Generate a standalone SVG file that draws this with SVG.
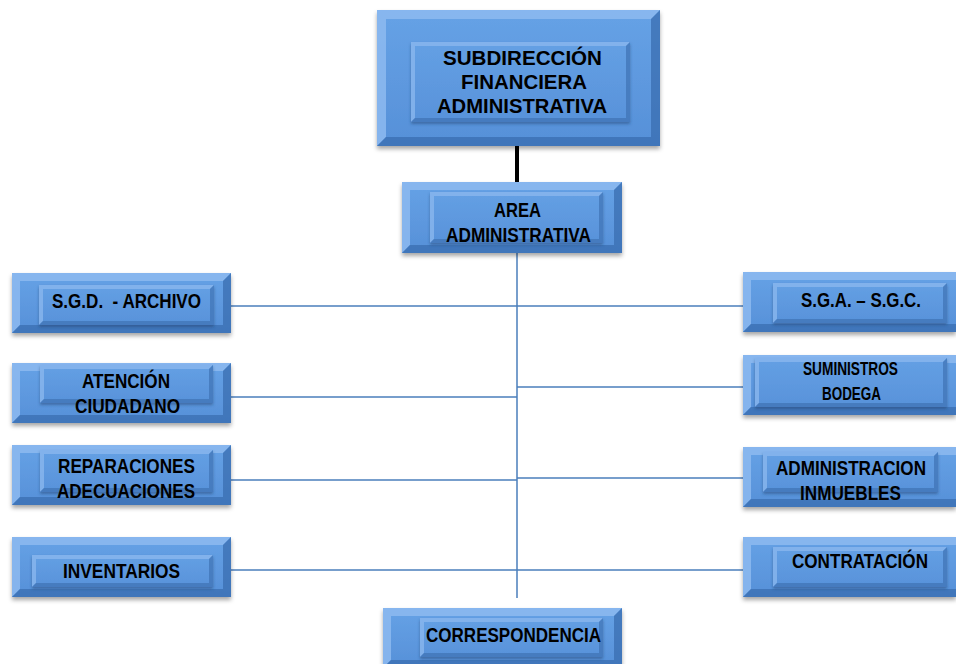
<svg xmlns="http://www.w3.org/2000/svg" width="956" height="664" viewBox="0 0 956 664">
<style>
.o{fill:url(#g);filter:url(#sh)}
.i{fill:url(#g2);filter:url(#sh2)}
.l{fill:#8dbaf0;opacity:.85}
.d{fill:#3a6db0;opacity:.75}
.il{fill:#8ab7ee;opacity:.8}
.id{fill:#3f72b4;opacity:.7}
.t{font-family:"Liberation Sans",Arial,sans-serif;font-weight:bold;font-size:21px;fill:#000;text-anchor:middle}
.s{font-size:18px}
.m{font-size:20px}
.c{stroke:#4a7ebb;stroke-width:1.5;fill:none}
</style>
<defs>
<linearGradient id="g" x1="0" y1="0" x2="0" y2="1"><stop offset="0" stop-color="#66a2e6"/><stop offset="1" stop-color="#5690d8"/></linearGradient>
<linearGradient id="g2" x1="0" y1="0" x2="0" y2="1"><stop offset="0" stop-color="#64a0e4"/><stop offset="1" stop-color="#5892da"/></linearGradient>
<filter id="sh" x="-10%" y="-10%" width="120%" height="130%"><feDropShadow dx="0" dy="3" stdDeviation="2" flood-color="#000" flood-opacity="0.35"/></filter>
<filter id="sh2" x="-10%" y="-10%" width="120%" height="140%"><feDropShadow dx="0" dy="2" stdDeviation="1.5" flood-color="#1c3f70" flood-opacity="0.5"/></filter>
</defs>
<rect width="956" height="664" fill="#fff"/>
<g id="connectors">
<line x1="517" y1="146" x2="517" y2="183" stroke="#000" stroke-width="4"/>
<line class="c" x1="517" y1="253" x2="517" y2="598"/>
<line class="c" x1="231" y1="306" x2="743" y2="306"/>
<line class="c" x1="231" y1="397" x2="517" y2="397"/>
<line class="c" x1="517" y1="387" x2="743" y2="387"/>
<line class="c" x1="231" y1="480" x2="517" y2="480"/>
<line class="c" x1="517" y1="478" x2="743" y2="478"/>
<line class="c" x1="231" y1="570" x2="743" y2="570"/>
</g>
<g id="subdireccion">
<rect class="o" x="377" y="10" width="283" height="136"/>
<path class="l" d="M377,10H660L651,19H386V137L377,146Z"/><path class="d" d="M660,10V146H377L386,137H651V19Z"/>
<rect class="i" x="411" y="42" width="219" height="80"/>
<path class="il" d="M411,42H630L626,46H415V118L411,122Z"/><path class="id" d="M630,42V122H411L415,118H626V46Z"/>
<text class="t" x="522.5" y="65" textLength="159" lengthAdjust="spacingAndGlyphs">SUBDIRECCIÓN</text>
<text class="t" x="524" y="89" textLength="126" lengthAdjust="spacingAndGlyphs">FINANCIERA</text>
<text class="t" x="522" y="113" textLength="170" lengthAdjust="spacingAndGlyphs">ADMINISTRATIVA</text>
</g>
<g id="area">
<rect class="o" x="402" y="182" width="220" height="71"/>
<path class="l" d="M402,182H622L614,190H410V245L402,253Z"/><path class="d" d="M622,182V253H402L410,245H614V190Z"/>
<rect class="i" x="430" y="192" width="173" height="51"/>
<path class="il" d="M430,192H603L599,196H434V239L430,243Z"/><path class="id" d="M603,192V243H430L434,239H599V196Z"/>
<text class="t" x="517.5" y="217" textLength="47" lengthAdjust="spacingAndGlyphs">AREA</text>
<text class="t" x="518.5" y="242" textLength="145" lengthAdjust="spacingAndGlyphs">ADMINISTRATIVA</text>
</g>
<g id="sgd">
<rect class="o" x="12" y="273" width="219" height="60"/>
<path class="l" d="M12,273H231L223,281H20V325L12,333Z"/><path class="d" d="M231,273V333H12L20,325H223V281Z"/>
<rect class="i" x="39" y="285" width="175" height="40"/>
<path class="il" d="M39,285H214L210,289H43V321L39,325Z"/><path class="id" d="M214,285V325H39L43,321H210V289Z"/>
<text class="t" x="126.5" y="308" textLength="149" lengthAdjust="spacingAndGlyphs" xml:space="preserve">S.G.D.  - ARCHIVO</text>
</g>
<g id="atencion">
<rect class="o" x="12" y="363" width="219" height="60"/>
<path class="l" d="M12,363H231L223,371H20V415L12,423Z"/><path class="d" d="M231,363V423H12L20,415H223V371Z"/>
<rect class="i" x="40" y="365" width="173" height="38"/>
<path class="il" d="M40,365H213L209,369H44V399L40,403Z"/><path class="id" d="M213,365V403H40L44,399H209V369Z"/>
<text class="t" x="126" y="388" textLength="88" lengthAdjust="spacingAndGlyphs">ATENCIÓN</text>
<text class="t" x="127.5" y="413" textLength="105" lengthAdjust="spacingAndGlyphs">CIUDADANO</text>
</g>
<g id="reparaciones">
<rect class="o" x="12" y="445" width="219" height="60"/>
<path class="l" d="M12,445H231L223,453H20V497L12,505Z"/><path class="d" d="M231,445V505H12L20,497H223V453Z"/>
<rect class="i" x="40" y="450" width="173" height="42"/>
<path class="il" d="M40,450H213L209,454H44V488L40,492Z"/><path class="id" d="M213,450V492H40L44,488H209V454Z"/>
<text class="t" x="126.5" y="473" textLength="137" lengthAdjust="spacingAndGlyphs">REPARACIONES</text>
<text class="t" x="126" y="498" textLength="138" lengthAdjust="spacingAndGlyphs">ADECUACIONES</text>
</g>
<g id="inventarios">
<rect class="o" x="12" y="537" width="219" height="60"/>
<path class="l" d="M12,537H231L223,545H20V589L12,597Z"/><path class="d" d="M231,537V597H12L20,589H223V545Z"/>
<rect class="i" x="32" y="555" width="181" height="32"/>
<path class="il" d="M32,555H213L209,559H36V583L32,587Z"/><path class="id" d="M213,555V587H32L36,583H209V559Z"/>
<text class="t" x="121.5" y="578" textLength="117" lengthAdjust="spacingAndGlyphs">INVENTARIOS</text>
</g>
<g id="sga">
<rect class="o" x="743" y="272" width="213" height="60"/>
<path class="l" d="M743,272H964L956,280H751V324L743,332Z"/><path class="d" d="M956,332H743L751,324H956Z"/>
<rect class="i" x="773" y="283" width="174" height="40"/>
<path class="il" d="M773,283H947L943,287H777V319L773,323Z"/><path class="id" d="M947,283V323H773L777,319H943V287Z"/>
<text class="t" x="861" y="307" textLength="120" lengthAdjust="spacingAndGlyphs">S.G.A. – S.G.C.</text>
</g>
<g id="suministros">
<rect class="o" x="743" y="355" width="213" height="60"/>
<path class="l" d="M743,355H964L956,363H751V407L743,415Z"/><path class="d" d="M956,415H743L751,407H956Z"/>
<rect class="i" x="755" y="358" width="192" height="49"/>
<path class="il" d="M755,358H947L943,362H759V403L755,407Z"/><path class="id" d="M947,358V407H755L759,403H943V362Z"/>
<text class="t s" x="850.5" y="375" textLength="95" lengthAdjust="spacingAndGlyphs">SUMINISTROS</text>
<text class="t s" x="851.5" y="400" textLength="59" lengthAdjust="spacingAndGlyphs">BODEGA</text>
</g>
<g id="inmuebles">
<rect class="o" x="743" y="447" width="213" height="60"/>
<path class="l" d="M743,447H964L956,455H751V499L743,507Z"/><path class="d" d="M956,507H743L751,499H956Z"/>
<rect class="i" x="763" y="452" width="175" height="40"/>
<path class="il" d="M763,452H938L934,456H767V488L763,492Z"/><path class="id" d="M938,452V492H763L767,488H934V456Z"/>
<text class="t m" x="851" y="475" textLength="150" lengthAdjust="spacingAndGlyphs">ADMINISTRACION</text>
<text class="t m" x="850.5" y="500" textLength="101" lengthAdjust="spacingAndGlyphs">INMUEBLES</text>
</g>
<g id="contratacion">
<rect class="o" x="743" y="537" width="213" height="60"/>
<path class="l" d="M743,537H964L956,545H751V589L743,597Z"/><path class="d" d="M956,597H743L751,589H956Z"/>
<rect class="i" x="773" y="547" width="174" height="40"/>
<path class="il" d="M773,547H947L943,551H777V583L773,587Z"/><path class="id" d="M947,547V587H773L777,583H943V551Z"/>
<text class="t m" x="860" y="568" textLength="136" lengthAdjust="spacingAndGlyphs">CONTRATACIÓN</text>
</g>
<g id="correspondencia">
<rect class="o" x="383" y="608" width="239" height="60"/>
<path class="l" d="M383,608H622L614,616H391V660L383,668Z"/><path class="d" d="M622,608V668H383L391,660H614V616Z"/>
<rect class="i" x="420" y="618" width="183" height="39"/>
<path class="il" d="M420,618H603L599,622H424V653L420,657Z"/><path class="id" d="M603,618V657H420L424,653H599V622Z"/>
<text class="t" x="513.5" y="642" textLength="175" lengthAdjust="spacingAndGlyphs">CORRESPONDENCIA</text>
</g>
</svg>
